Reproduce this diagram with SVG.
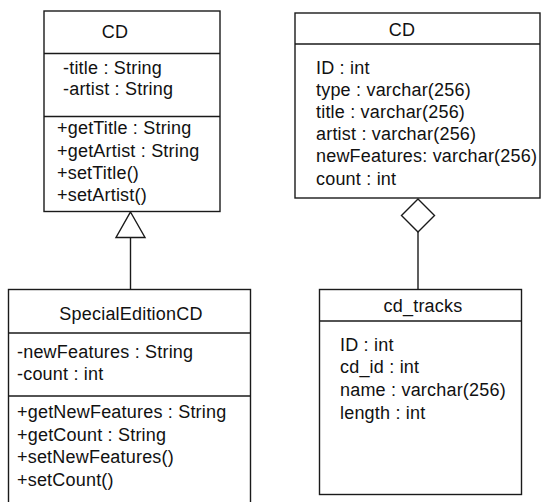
<svg xmlns="http://www.w3.org/2000/svg" width="542" height="502" viewBox="0 0 542 502">
  <style>
    .box { fill: #ffffff; stroke: #1a1a1a; stroke-width: 1.4; }
    .sep { stroke: #1a1a1a; stroke-width: 1.4; fill: none; }
    .edge { stroke: #1a1a1a; stroke-width: 1.4; fill: none; }
    .head { fill: #ffffff; stroke: #1a1a1a; stroke-width: 1.4; }
    text { font-family: "Liberation Sans", Arial, Helvetica, sans-serif; font-size: 18px; fill: #111111; letter-spacing: 0.2px; }
    .title { text-anchor: middle; }
  </style>
  <rect width="542" height="502" fill="#ffffff"/>

  <!-- connectors: generalization and aggregation -->
  <g id="connectors">
    <line class="edge" x1="130.5" y1="237.5" x2="130.5" y2="289.5"/>
    <polygon class="head" points="130.5,212 145,237.5 116,237.5"/>
    <line class="edge" x1="418" y1="232" x2="418" y2="289.5"/>
    <polygon class="head" points="418,199 434.5,215.5 418,232 401.5,215.5"/>
  </g>

  <!-- class CD -->
  <g id="class-cd">
    <rect class="box" x="44" y="11" width="176" height="200.5"/>
    <line class="sep" x1="44" y1="53.5" x2="220" y2="53.5"/>
    <line class="sep" x1="44" y1="116.5" x2="220" y2="116.5"/>
    <text class="title" x="115" y="37.5">CD</text>
    <text x="63" y="74">-title : String</text>
    <text x="63" y="95">-artist : String</text>
    <text x="57" y="134">+getTitle : String</text>
    <text x="57" y="157">+getArtist : String</text>
    <text x="57" y="179">+setTitle()</text>
    <text x="57" y="201">+setArtist()</text>
  </g>

  <!-- class SpecialEditionCD -->
  <g id="class-special-edition-cd">
    <rect class="box" x="8.5" y="289.5" width="242" height="230"/>
    <line class="sep" x1="8.5" y1="333" x2="250.5" y2="333"/>
    <line class="sep" x1="8.5" y1="396" x2="250.5" y2="396"/>
    <text class="title" x="131" y="320">SpecialEditionCD</text>
    <text x="17" y="358">-newFeatures : String</text>
    <text x="17" y="380">-count : int</text>
    <text x="17" y="418">+getNewFeatures : String</text>
    <text x="17" y="441">+getCount : String</text>
    <text x="17" y="463">+setNewFeatures()</text>
    <text x="17" y="486">+setCount()</text>
  </g>

  <!-- table CD -->
  <g id="table-cd">
    <rect class="box" x="295" y="13" width="245" height="185"/>
    <line class="sep" x1="295" y1="44" x2="540" y2="44"/>
    <text class="title" x="402" y="36">CD</text>
    <text x="316" y="74">ID : int</text>
    <text x="316" y="96">type : varchar(256)</text>
    <text x="316" y="118">title : varchar(256)</text>
    <text x="316" y="140">artist : varchar(256)</text>
    <text x="316" y="162">newFeatures: varchar(256)</text>
    <text x="316" y="185">count : int</text>
  </g>

  <!-- table cd_tracks -->
  <g id="table-cd-tracks">
    <rect class="box" x="319.5" y="289.5" width="202" height="205"/>
    <line class="sep" x1="319.5" y1="321" x2="521.5" y2="321"/>
    <text class="title" x="423" y="312">cd_tracks</text>
    <text x="340" y="351">ID : int</text>
    <text x="340" y="373">cd_id : int</text>
    <text x="340" y="396">name : varchar(256)</text>
    <text x="340" y="419">length : int</text>
  </g>
</svg>
